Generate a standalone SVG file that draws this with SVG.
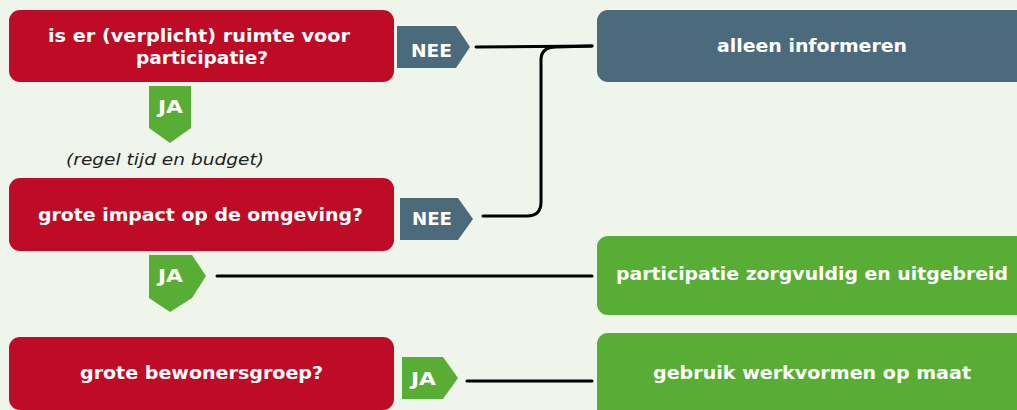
<svg xmlns="http://www.w3.org/2000/svg" width="1017" height="410" viewBox="0 0 1017 410">
<style>
.red{fill:#BE0B26}
.slate{fill:#4B6B7D}
.green{fill:#58AD34}
.t{font-family:"DejaVu Sans","Verdana",sans-serif;font-weight:bold;font-size:18px;fill:#fff;text-anchor:middle}
.tag{font-family:"DejaVu Sans","Verdana",sans-serif;font-weight:bold;font-size:18px;fill:#fff;text-anchor:middle}
.note{font-family:"DejaVu Sans","Verdana",sans-serif;font-style:italic;font-size:16px;fill:#222;text-anchor:middle}
.c{fill:none;stroke:#000;stroke-width:3;stroke-linecap:round;stroke-linejoin:round}
</style>
<rect width="1017" height="410" fill="#F0F5EC"/>
<g id="connectors">
<path class="c" d="M476,47 L592,46"/>
<path class="c" d="M483,216 L527,216 Q541,216 541,202 L541,60 Q541,47 556,47 L592,46"/>
<path class="c" d="M217,276 L592,276"/>
<path class="c" d="M467,381 L592,381"/>
</g>
<g id="q1">
<rect class="red" x="9" y="10" width="385" height="72" rx="11"/>
<text class="t" x="199" y="42" textLength="302" lengthAdjust="spacingAndGlyphs">is er (verplicht) ruimte voor</text>
<text class="t" x="202" y="64" textLength="132" lengthAdjust="spacingAndGlyphs">participatie?</text>
</g>
<g id="ja1">
<polygon class="green" points="149,86 191,86 191,128 170,143 149,128"/>
<text class="tag" x="170.5" y="113" textLength="25" lengthAdjust="spacingAndGlyphs">JA</text>
</g>
<g id="note">
<text class="note" x="165" y="165" textLength="198" lengthAdjust="spacingAndGlyphs">(regel tijd en budget)</text>
</g>
<g id="nee1">
<polygon class="slate" points="397,26 456,26 470,47 456,68 397,68"/>
<text class="tag" x="431.5" y="56.5" textLength="41" lengthAdjust="spacingAndGlyphs">NEE</text>
</g>
<g id="a1">
<rect class="slate" x="597" y="10" width="440" height="72" rx="11"/>
<text class="t" x="812" y="52" textLength="190" lengthAdjust="spacingAndGlyphs">alleen informeren</text>
</g>
<g id="q2">
<rect class="red" x="9" y="178" width="385" height="73" rx="11"/>
<text class="t" x="200.5" y="221" textLength="325" lengthAdjust="spacingAndGlyphs">grote impact op de omgeving?</text>
</g>
<g id="nee2">
<polygon class="slate" points="400,198 458,198 473,219 458,240 400,240"/>
<text class="tag" x="432" y="225" textLength="40" lengthAdjust="spacingAndGlyphs">NEE</text>
</g>
<g id="ja2">
<polygon class="green" points="149,255 192,255 206,276 192,298 170,312 149,298"/>
<text class="tag" x="170.5" y="282" textLength="25" lengthAdjust="spacingAndGlyphs">JA</text>
</g>
<g id="a2">
<rect class="green" x="597" y="236" width="440" height="79" rx="11"/>
<text class="t" x="812" y="280" textLength="392" lengthAdjust="spacingAndGlyphs">participatie zorgvuldig en uitgebreid</text>
</g>
<g id="q3">
<rect class="red" x="9" y="337" width="385" height="73" rx="11"/>
<text class="t" x="201.5" y="379" textLength="243" lengthAdjust="spacingAndGlyphs">grote bewonersgroep?</text>
</g>
<g id="ja3">
<polygon class="green" points="402,357 443,357 458,378 443,399 402,399"/>
<text class="tag" x="423.5" y="385" textLength="25" lengthAdjust="spacingAndGlyphs">JA</text>
</g>
<g id="a3">
<rect class="green" x="597" y="333" width="440" height="90" rx="11"/>
<text class="t" x="812" y="379" textLength="318" lengthAdjust="spacingAndGlyphs">gebruik werkvormen op maat</text>
</g>
</svg>
